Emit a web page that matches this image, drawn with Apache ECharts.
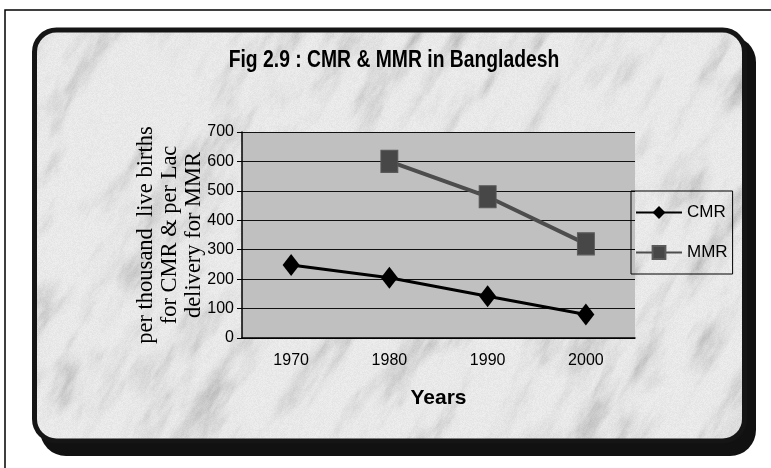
<!DOCTYPE html>
<html>
<head>
<meta charset="utf-8">
<script src="https://cdn.jsdelivr.net/npm/echarts@6/dist/echarts.min.js"></script>
<style>
  * { margin: 0; padding: 0; }
  body { background: #fff; }
  #chart { width: 771px; height: 468px; }
</style>
</head>
<body>
<div id="chart"></div>
<script>
// data
var years = ['1970', '1980', '1990', '2000'];
var cmr = [248, 205, 142, 80];
var mmr = [null, 600, 480, 320];

var sans = "'Liberation Sans Narrow', 'Liberation Sans', Arial, sans-serif";
var serif = "'Liberation Serif', 'DejaVu Serif', serif";

// grey marble texture for the panel (decoration only, fixed hash noise)
function hash(i, j) {
  var h = Math.sin(i * 127.1 + j * 311.7) * 43758.5453;
  return h - Math.floor(h);
}
function vnoise(x, y) {
  var i = Math.floor(x), j = Math.floor(y);
  var fx = x - i, fy = y - j;
  fx = fx * fx * (3 - 2 * fx);
  fy = fy * fy * (3 - 2 * fy);
  var a = hash(i, j), b = hash(i + 1, j), c = hash(i, j + 1), d = hash(i + 1, j + 1);
  return a + (b - a) * fx + (c - a) * fy + (a - b - c + d) * fx * fy;
}
function marble() {
  var c = document.createElement('canvas');
  c.width = 771; c.height = 468;
  var ctx = c.getContext('2d');
  var img = ctx.createImageData(c.width, c.height);
  for (var y = 0; y < c.height; y++) {
    for (var x = 0; x < c.width; x++) {
      var u = 0.5 * x - 0.866 * y;   // along the streaks
      var w = 0.866 * x + 0.5 * y;   // across the streaks
      var f = 0, amp = 0.5, su = 1 / 60, sw = 1 / 18;
      for (var o = 0; o < 4; o++) {
        f += amp * vnoise(u * su + o * 17, w * sw + o * 31);
        amp *= 0.5; su *= 2.1; sw *= 2.1;
      }
      var dark = Math.max(0, f - 0.36) / 0.64;
      var v = 238 - 90 * dark * dark - 10 * hash(x, y);
      var i = (y * c.width + x) * 4;
      img.data[i] = img.data[i + 1] = img.data[i + 2] = v;
      img.data[i + 3] = 255;
    }
  }
  ctx.putImageData(img, 0, 0);
  return c;
}

var chart = echarts.init(document.getElementById('chart'));

var option = {
  backgroundColor: '#fff',
  animation: false,
  graphic: [
    {
      type: 'rect', z: -20, silent: true,
      shape: { x: 5, y: 10, width: 800, height: 500 },
      style: { fill: 'none', stroke: '#000', lineWidth: 1.5 }
    },
    {
      type: 'rect', z: -19, silent: true,
      shape: { x: 40, y: 36, width: 716, height: 420, r: 26 },
      style: { fill: '#111' }
    },
    {
      type: 'rect', z: -18, silent: true,
      shape: { x: 34.5, y: 30, width: 710, height: 411, r: 22 },
      style: { fill: { image: marble(), repeat: 'no-repeat' }, stroke: '#151515', lineWidth: 5 }
    },
    {
      // chart title, squeezed like the original
      type: 'text', z: 10, silent: true,
      x: 394, y: 61, scaleX: 0.84,
      style: {
        text: 'Fig 2.9 : CMR & MMR in Bangladesh',
        align: 'center', verticalAlign: 'middle',
        font: "bold 23px 'Liberation Sans', Arial, sans-serif",
        fill: '#000'
      }
    }
  ],
  legend: {
    orient: 'vertical',
    left: 631,
    top: 191,
    padding: [13, 5, 13, 4],
    itemGap: 23,
    itemWidth: 46,
    itemHeight: 16,
    borderColor: '#000',
    borderWidth: 1,
    textStyle: { fontFamily: sans, fontSize: 17, color: '#000', lineHeight: 16 },
    data: ['CMR', 'MMR']
  },
  grid: {
    left: 242,
    right: 136,
    top: 132,
    bottom: 130,
    show: true,
    backgroundColor: '#c0c0c0',
    borderWidth: 0
  },
  xAxis: {
    type: 'category',
    data: years,
    boundaryGap: true,
    name: 'Years',
    nameLocation: 'middle',
    nameGap: 50,
    nameTextStyle: { fontFamily: sans, fontWeight: 'bold', fontSize: 21, color: '#000' },
    axisLine: { lineStyle: { color: '#000', width: 1.5 } },
    axisTick: { length: 5, lineStyle: { color: '#000' } },
    axisLabel: { margin: 15, fontFamily: sans, fontSize: 16, color: '#000' }
  },
  yAxis: {
    type: 'value',
    min: 0,
    max: 700,
    interval: 100,
    name: 'per thousand  live births\nfor CMR & per Lac\ndelivery for MMR',
    nameLocation: 'middle',
    nameRotate: 90,
    nameGap: 36,
    nameMoveOverlap: false,
    nameTextStyle: { fontFamily: serif, fontSize: 22.5, color: '#000', lineHeight: 24 },
    axisLine: { show: true, lineStyle: { color: '#000', width: 1.5 } },
    axisTick: { show: true, length: 5, lineStyle: { color: '#000' } },
    axisLabel: { margin: 8, fontFamily: sans, fontSize: 16, color: '#000' },
    splitLine: { lineStyle: { color: '#111', width: 1 } }
  },
  series: [
    {
      name: 'CMR',
      type: 'line',
      data: cmr,
      symbol: 'diamond',
      symbolSize: [17, 22],
      lineStyle: { color: '#000', width: 3 },
      itemStyle: { color: '#000' }
    },
    {
      name: 'MMR',
      type: 'line',
      data: mmr,
      symbol: 'rect',
      symbolSize: [17, 22],
      lineStyle: { color: '#4d4d4d', width: 4 },
      itemStyle: { color: '#474747', borderColor: '#5a5a5a', borderWidth: 1 }
    }
  ]
};

chart.setOption(option);
</script>
</body>
</html>
